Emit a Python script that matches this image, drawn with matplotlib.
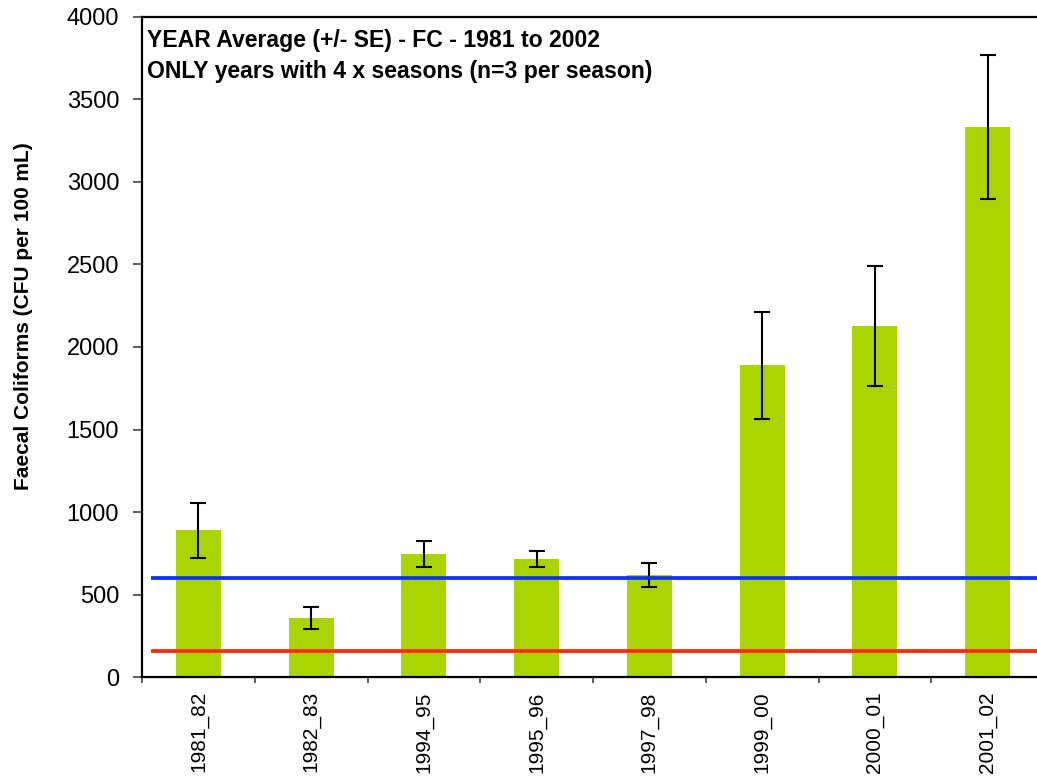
import numpy as np
import matplotlib.pyplot as plt

plt.rcParams['font.family'] = ['Liberation Sans', 'DejaVu Sans']

seasons = ['1981_82', '1982_83', '1994_95', '1995_96', '1997_98', '1999_00', '2000_01', '2001_02']
fc_mean = [890, 358, 745, 715, 618, 1888, 2124, 3333]
fc_se = [165, 68, 80, 50, 72, 325, 363, 435]
guideline_blue = 600
guideline_red = 160

fig = plt.figure(figsize=(10.37, 7.8), dpi=100)
ax = fig.add_axes([142 / 1037, (780 - 677.3) / 780, (1044 - 142) / 1037, (677.3 - 16.5) / 780])

x = np.arange(len(seasons))
ax.bar(x, fc_mean, width=0.4, color='#aad400', zorder=2)
ax.errorbar(x, fc_mean, yerr=fc_se, fmt='none', ecolor='black', elinewidth=1.5,
            capsize=5.8, capthick=1.5, zorder=3)
ax.hlines(guideline_blue, -0.42, 7.6, color='#0a32ff', linewidth=2.7, zorder=4)
ax.hlines(guideline_red, -0.42, 7.6, color='#ff2a00', linewidth=2.7, zorder=4)

ax.set_xlim(-0.5, 7.5)
ax.set_ylim(0, 4000)
ax.set_yticks(np.arange(0, 4001, 500))
ax.set_xticks(np.arange(-0.5, 7.6, 1), minor=False)
ax.set_xticklabels([])
ax.set_xticks(x, minor=True)
ax.set_xticklabels(seasons, minor=True, rotation=90, fontsize=15)
ax.tick_params(axis='x', which='minor', length=0, pad=10)
ax.tick_params(axis='x', which='major', length=4.5, width=1.2, color='#444444')
ax.tick_params(axis='y', length=6.5, width=1.2, labelsize=17, pad=10, color='#444444')

ax.spines['right'].set_visible(False)
for s in ['left', 'bottom', 'top']:
    ax.spines[s].set_linewidth(1.6)

fig.text(24 / 1037, 1 - 316 / 780, 'Faecal Coliforms (CFU per 100 mL)', rotation=90,
         fontsize=15, fontweight='bold', ha='center', va='center')

ax.text(0.006, 0.9543, 'YEAR Average (+/- SE) - FC - 1981 to 2002', transform=ax.transAxes,
        fontsize=16.6, fontweight='bold', va='baseline', ha='left')
ax.text(0.006, 0.9065, 'ONLY years with 4 x seasons (n=3 per season)', transform=ax.transAxes,
        fontsize=16.6, fontweight='bold', va='baseline', ha='left')

fig.savefig('out.png', dpi=100)
